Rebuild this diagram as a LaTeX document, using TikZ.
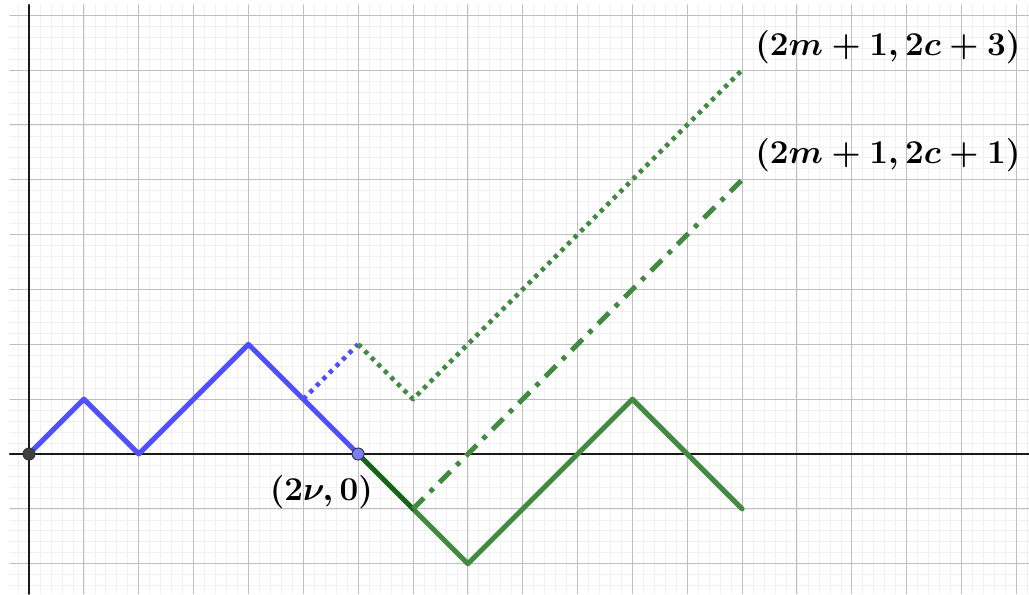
\documentclass[tikz,border=0pt]{standalone}
\definecolor{pathblue}{RGB}{80,80,250}
\definecolor{pathgreen}{RGB}{66,138,66}
\definecolor{darkgreen}{RGB}{22,100,22}
\definecolor{ptblue}{RGB}{125,125,255}
\tikzset{
  gridminor/.style={draw=black!6, line width=0.35pt},
  gridmajor/.style={draw=black!25, line width=0.5pt},
  axisline/.style={draw=black!90, line width=0.8pt},
  walk/.style={line width=2.6pt},
  dotline/.style={line width=2.4pt, dash pattern=on 2.2pt off 2.6pt, line cap=butt},
  dashdotline/.style={line width=2.6pt, dash pattern=on 8pt off 4.5pt on 2.4pt off 4.5pt, line cap=butt},
  vertex/.style={circle, draw=black!80, line width=0.5pt, inner sep=0pt, minimum size=0.22cm},
  lbl/.style={font=\fontsize{18.2}{22}\selectfont\boldmath, inner sep=1pt}
}
\begin{document}
\begin{tikzpicture}[line join=round, line cap=round]
			\useasboundingbox (-0.529,-2.552) rectangle (18.23,8.277);
			% grid and axes
			\draw[gridminor, step=0.2] (-0.35,-2.552) grid (18.23,8.19);
			\draw[gridmajor, step=1] (-0.35,-2.552) grid (18.23,8.19);
			\draw[axisline] (-0.35,0) -- (18.23,0);
			\draw[axisline] (0,-2.552) -- (0,8.19);
			\coordinate (O) at (0,0);
			\coordinate (A1) at (1,1);
			\coordinate (A2) at (2,0);
			\coordinate (A3) at (4,2);
			\coordinate (A4) at (5,1);
			\coordinate (N) at (6,0);
			\coordinate (R1) at (6,2);
			\coordinate (R2) at (7,1);
			\coordinate (E3) at (13,7);
			\coordinate (S) at (7,-1);
			\coordinate (E1) at (13,5);
			\coordinate (B1) at (8,-2);
			\coordinate (B2) at (11,1);
			\coordinate (B3) at (13,-1);
			% blue walk up to (2nu,0)
			\draw[walk, pathblue] (O) -- (A1) -- (A2) -- (A3) -- (A4) -- (N);
			\draw[dotline, pathblue] (A4) -- (R1);
			% green continuations
			\draw[walk, pathgreen] (S) -- (B1) -- (B2) -- (B3);
			\draw[walk, darkgreen] (N) -- (S);
			\draw[dotline, pathgreen] (R1) -- (R2) -- (E3);
			\draw[dashdotline, pathgreen] (S) -- (E1);
			\node[vertex, fill=black!75] (o) at (O) {};
			\node[vertex, fill=ptblue] (n) at (N) {};
			\node[lbl] (lnu) at (5.33,-0.7) {$(2\nu,0)$};
			\node[lbl, anchor=west] (ltop) at (13.2,7.42) {$(2m+1,2c+3)$};
			\node[lbl, anchor=west] (lmid) at (13.2,5.45) {$(2m+1,2c+1)$};
		\end{tikzpicture}
\end{document}
